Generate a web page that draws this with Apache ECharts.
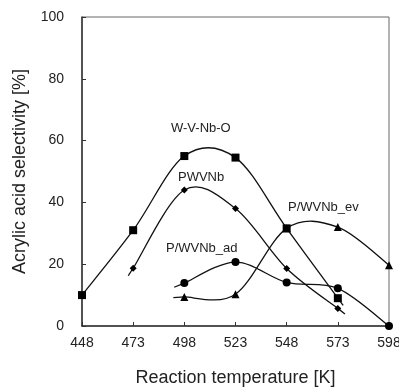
<!DOCTYPE html>
<html>
<head>
<meta charset="utf-8">
<script src="https://cdn.jsdelivr.net/npm/echarts@6/dist/echarts.min.js"></script>
<style>
html,body{margin:0;padding:0;background:#fff;}
#c{width:399px;height:387px;}
</style>
</head>
<body>
<div id="c"></div>
<script>
// Data
const temperatures = ['448', '473', '498', '523', '548', '573', '598'];
const seriesNames = ['W-V-Nb-O', 'PWVNb', 'P/WVNb_ad', 'P/WVNb_ev'];
const wvnbo = [10, 31, 55, 54.5, 31.6, 9, null];
const pwvnb = [null, 18.7, 44, 38, 18.6, 5.7, null];
const pwvnbAd = [null, null, 13.9, 20.7, 14.1, 12.2, 0];
const pwvnbEv = [null, null, 9.4, 10.3, 31.6, 32, 19.7];
const yTicks = { min: 0, max: 100, interval: 20 };

const values = [wvnbo, pwvnb, pwvnbAd, pwvnbEv];
const symbols = ['rect', 'diamond', 'circle', 'triangle'];
const symbolSizes = [8, 7, 8, 8];
const labelPos = [[171, 129], [178, 178], [166, 249], [288, 208]];
const tailLen = [[0, 9], [9, 9], [11, 0], [11, 0]]; // curve overhang at start / end (px)

const font = 'Liberation Sans, Arial, sans-serif';
const chart = echarts.init(document.getElementById('c'), null, { renderer: 'canvas' });

function curveRenderer(si) {
  return function (params, api) {
    const pts = [];
    values[si].forEach((v, i) => { if (v !== null) pts.push(api.coord([i, v])); });
    const n = pts.length;
    const P = k => pts[Math.max(0, Math.min(n - 1, k))];
    const children = [];
    const style = { stroke: '#111', lineWidth: 1.3, fill: null };
    let firstC = null, lastC = null;
    for (let i = 0; i < n - 1; i++) {
      const p0 = P(i - 1), p1 = P(i), p2 = P(i + 1), p3 = P(i + 2);
      const c1 = [p1[0] + (p2[0] - p0[0]) / 6, p1[1] + (p2[1] - p0[1]) / 6];
      const c2 = [p2[0] - (p3[0] - p1[0]) / 6, p2[1] - (p3[1] - p1[1]) / 6];
      if (i === 0) firstC = c1;
      if (i === n - 2) lastC = c2;
      children.push({
        type: 'bezierCurve',
        shape: { x1: p1[0], y1: p1[1], x2: p2[0], y2: p2[1], cpx1: c1[0], cpy1: c1[1], cpx2: c2[0], cpy2: c2[1] },
        style: style
      });
    }
    const ext = (p, c, len) => {
      const dx = p[0] - c[0], dy = p[1] - c[1];
      const d = Math.hypot(dx, dy) || 1;
      return [p[0] + dx / d * len, p[1] + dy / d * len];
    };
    if (tailLen[si][0] > 0) {
      const e = ext(pts[0], firstC, tailLen[si][0]);
      children.push({ type: 'line', shape: { x1: pts[0][0], y1: pts[0][1], x2: e[0], y2: e[1] }, style: style });
    }
    if (tailLen[si][1] > 0) {
      const e = ext(pts[n - 1], lastC, tailLen[si][1]);
      children.push({ type: 'line', shape: { x1: pts[n - 1][0], y1: pts[n - 1][1], x2: e[0], y2: e[1] }, style: style });
    }
    return { type: 'group', children: children };
  };
}

const curveSeries = seriesNames.map((n, i) => ({
  name: n + ' curve',
  type: 'custom',
  renderItem: curveRenderer(i),
  data: [[0, 0]],
  silent: true,
  z: 2
}));

const markerSeries = seriesNames.map((n, i) => ({
  name: n,
  type: 'line',
  data: values[i],
  symbol: symbols[i],
  symbolSize: symbolSizes[i],
  showSymbol: true,
  itemStyle: { color: '#000' },
  lineStyle: { width: 0, opacity: 0 },
  z: 3
}));

chart.setOption({
  animation: false,
  backgroundColor: '#fff',
  grid: { left: 82, right: 10, top: 17, bottom: 61, outerBoundsMode: 'none', containLabel: false, show: true, borderColor: '#666', borderWidth: 1 },
  xAxis: {
    type: 'category',
    data: temperatures,
    boundaryGap: false,
    name: 'Reaction temperature [K]',
    nameLocation: 'middle',
    nameGap: 43,
    nameTextStyle: { fontFamily: font, fontSize: 18, color: '#222' },
    axisLine: { lineStyle: { color: '#333', width: 1.5 } },
    axisTick: { inside: true, length: 4, alignWithLabel: true, lineStyle: { color: '#333' } },
    axisLabel: { fontFamily: font, fontSize: 14, color: '#222', margin: 10 },
    splitLine: { show: false }
  },
  yAxis: {
    type: 'value',
    min: yTicks.min, max: yTicks.max, interval: yTicks.interval,
    name: 'Acrylic acid selectivity [%]',
    nameLocation: 'middle',
    nameGap: 53,
    nameTextStyle: { fontFamily: font, fontSize: 18, color: '#222' },
    axisLine: { show: true, lineStyle: { color: '#333', width: 1.5 } },
    axisTick: { show: true, inside: true, length: 4, lineStyle: { color: '#333' } },
    axisLabel: { fontFamily: font, fontSize: 14, color: '#222', margin: 18 },
    splitLine: { show: false }
  },
  graphic: seriesNames.map((n, i) => ({
    type: 'text', left: labelPos[i][0], top: labelPos[i][1] - 7,
    style: { text: n, fontFamily: font, fontSize: 13, fill: '#222' }
  })),
  series: curveSeries.concat(markerSeries)
});
</script>
</body>
</html>
